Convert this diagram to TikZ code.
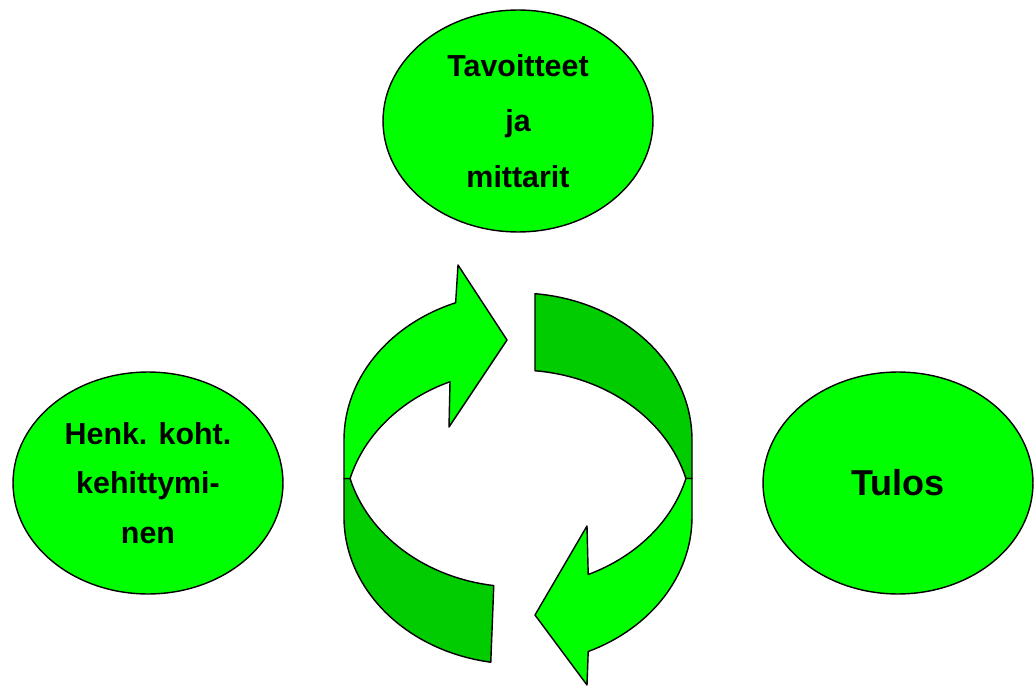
\documentclass[tikz,border=0pt]{standalone}
\usepackage{fontspec}
\setmainfont{Liberation Sans}
\usetikzlibrary{shapes.geometric}
\definecolor{lite}{RGB}{0,255,0}
\definecolor{deep}{RGB}{0,204,0}

\begin{document}
\begin{tikzpicture}[x=0.02cm, y=-0.02cm,
		bubble/.style={ellipse, draw=black, fill=lite, line width=0.8pt, minimum width=5.4cm, minimum height=4.44cm, inner sep=0pt, align=center},
		band/.style={draw=black, line width=0.8pt, line join=round}]
		\useasboundingbox (0,0) rectangle (1035,686);
		\def\cx{518}
		\def\ya{440} % upper rim
		\def\yb{517} % lower rim
		\def\rx{174}
		\def\ry{147}
		\def\ym{478.5} % where the rims cross
		% left arrow, back part
		\draw[band, fill=deep] ({\cx+\rx*cos(98)},{\ya+\ry*sin(98)})
			arc[start angle=98, end angle=164.8, x radius=\rx, y radius=\ry]
			-- (\cx-\rx,\ym) -- (\cx-\rx,\yb)
			arc[start angle=180, end angle=99, x radius=\rx, y radius=\ry] -- cycle;
		% left arrow, front part with head
		\draw[band, fill=lite] ({\cx+\rx*cos(249)},{\ya+\ry*sin(249)})
			arc[start angle=249, end angle=180, x radius=\rx, y radius=\ry]
			-- (\cx-\rx,\ym) -- ({\cx+\rx*cos(195.2)},\ym)
			arc[start angle=195.2, end angle=247, x radius=\rx, y radius=\ry]
			-- (449,427) -- (507,340) -- (458,265) -- cycle;
		% right arrow, back part
		\draw[band, fill=deep] ({\cx+\rx*cos(275.6)},{\ya+\ry*sin(275.6)})
			arc[start angle=275.6, end angle=360, x radius=\rx, y radius=\ry]
			-- (\cx+\rx,\ym) -- ({\cx+\rx*cos(15.2)},\ym)
			arc[start angle=344.8, end angle=275.6, x radius=\rx, y radius=\ry] -- cycle;
		% right arrow, front part with head
		\draw[band, fill=lite] ({\cx+\rx*cos(66.2)},{\ya+\ry*sin(66.2)})
			arc[start angle=66.2, end angle=15.2, x radius=\rx, y radius=\ry]
			-- (\cx+\rx,\ym) -- (\cx+\rx,\yb)
			arc[start angle=0, end angle=66.2, x radius=\rx, y radius=\ry]
			-- (587,685) -- (535,615) -- (587,526) -- cycle;
		\node[bubble, font=\bfseries\fontsize{17.3}{31.5}\selectfont] (goals) at (518,121) {Tavoitteet\\ja\\mittarit};
		\node[bubble, font=\bfseries\fontsize{17.3}{28.3}\selectfont] (growth) at (148,483) {Henk. koht.\\kehittymi-\\nen};
		\node[bubble, font=\bfseries\fontsize{20.5}{24}\selectfont] (result) at (898,483) {Tulos};
	\end{tikzpicture}
\end{document}
